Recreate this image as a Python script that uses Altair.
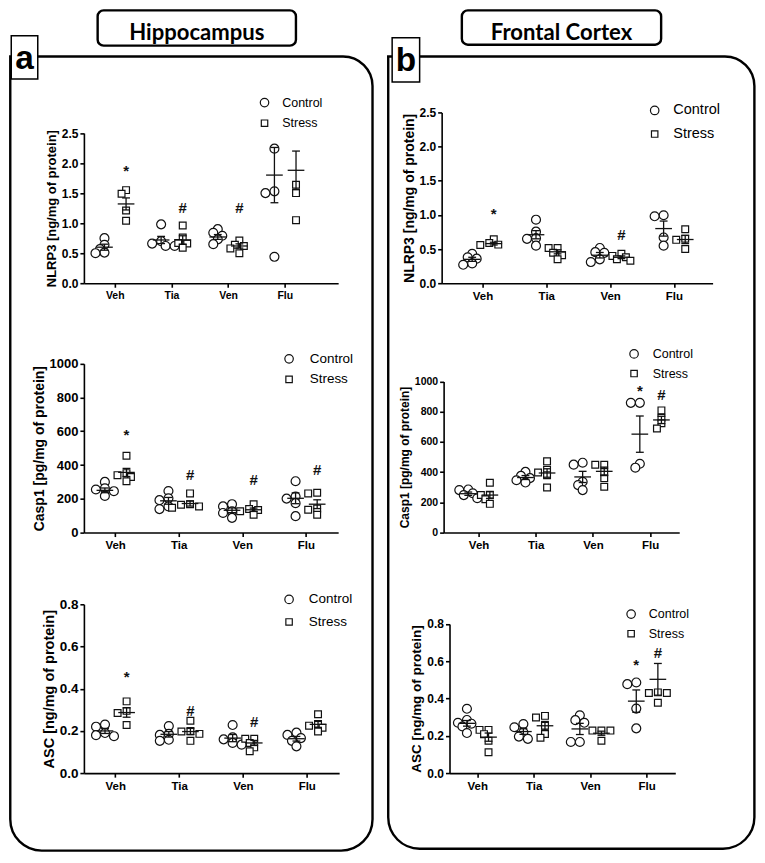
import altair as alt
import pandas as pd

categories = ["Veh", "Tia", "Ven", "Flu"]
groups = ["Control", "Stress"]

# ---------------- (a) Hippocampus ----------------
# NLRP3 [ng/mg of protein]
hip_nlrp3_control = [[0.75, 0.64, 0.57, 0.51, 0.50], [0.98, 0.70, 0.66, 0.62, 0.62],
                     [0.90, 0.84, 0.79, 0.73, 0.65], [2.24, 1.53, 1.50, 0.44]]
hip_nlrp3_stress = [[1.55, 1.49, 1.21, 1.04], [0.96, 0.76, 0.67, 0.66, 0.59],
                    [0.71, 0.64, 0.62, 0.58, 0.50], [1.64, 1.50, 1.05]]
hip_nlrp3_mean_control = [0.60, 0.72, 0.77, 1.80]
hip_nlrp3_sem_control = [0.05, 0.06, 0.04, 0.46]
hip_nlrp3_mean_stress = [1.32, 0.72, 0.62, 1.88]
hip_nlrp3_sem_stress = [0.10, 0.07, 0.035, 0.32]
hip_nlrp3_marks = [("Veh", "Stress", "*", 1.87), ("Tia", "Stress", "#", 1.25), ("Ven", "Stress", "#", 1.25)]

# Casp1 [pg/mg of protein]
hip_casp1_control = [[300, 262, 255, 245, 217], [246, 203, 192, 155, 139],
                     [168, 155, 126, 116, 87], [304, 213, 201, 174, 97]]
hip_casp1_stress = [[455, 352, 340, 329, 304], [232, 168, 165, 155, 147],
                    [168, 140, 134, 126, 106], [236, 232, 143, 135, 106]]
hip_casp1_mean_control = [250, 188, 132, 203]
hip_casp1_sem_control = [14, 20, 14, 32]
hip_casp1_mean_stress = [356, 172, 135, 168]
hip_casp1_sem_stress = [24, 15, 10, 26]
hip_casp1_marks = [("Veh", "Stress", "*", 575), ("Tia", "Stress", "#", 343),
                   ("Ven", "Stress", "#", 313), ("Flu", "Stress", "#", 372)]

# ASC [ng/mg of protein]
hip_asc_control = [[0.23, 0.22, 0.19, 0.18, 0.175], [0.223, 0.186, 0.181, 0.158, 0.153],
                   [0.228, 0.17, 0.16, 0.143, 0.135], [0.192, 0.181, 0.166, 0.153, 0.127]]
hip_asc_stress = [[0.34, 0.295, 0.285, 0.228], [0.248, 0.20, 0.197, 0.186, 0.153],
                  [0.163, 0.163, 0.143, 0.122, 0.104], [0.279, 0.233, 0.225, 0.215, 0.197]]
hip_asc_mean_control = [0.20, 0.184, 0.166, 0.163]
hip_asc_sem_control = [0.012, 0.013, 0.017, 0.011]
hip_asc_mean_stress = [0.287, 0.197, 0.143, 0.231]
hip_asc_sem_stress = [0.022, 0.015, 0.012, 0.014]
hip_asc_marks = [("Veh", "Stress", "*", 0.456), ("Tia", "Stress", "#", 0.293), ("Ven", "Stress", "#", 0.243)]

# ---------------- (b) Frontal Cortex ----------------
fc_nlrp3_control = [[0.43, 0.38, 0.36, 0.29, 0.27], [0.93, 0.755, 0.66, 0.65, 0.55],
                    [0.516, 0.455, 0.445, 0.35, 0.31], [0.995, 0.98, 0.67, 0.55]]
fc_nlrp3_stress = [[0.645, 0.59, 0.565, 0.56], [0.516, 0.516, 0.445, 0.41, 0.35],
                   [0.43, 0.40, 0.38, 0.35, 0.33], [0.79, 0.65, 0.635, 0.50]]
fc_nlrp3_mean_control = [0.35, 0.71, 0.41, 0.80]
fc_nlrp3_sem_control = [0.03, 0.06, 0.04, 0.11]
fc_nlrp3_mean_stress = [0.58, 0.46, 0.38, 0.64]
fc_nlrp3_sem_stress = [0.02, 0.03, 0.02, 0.06]
fc_nlrp3_marks = [("Veh", "Stress", "*", 1.01), ("Ven", "Stress", "#", 0.71)]

fc_casp1_control = [[285, 281, 260, 248, 227], [401, 375, 360, 346, 331],
                    [462, 449, 336, 314, 281], [858, 858, 455, 429]]
fc_casp1_stress = [[329, 250, 248, 220, 190], [471, 416, 397, 379, 298],
                   [449, 449, 400, 360, 303], [808, 760, 723, 688]]
fc_casp1_mean_control = [257, 364, 368, 651]
fc_casp1_sem_control = [11, 13, 37, 120]
fc_casp1_mean_stress = [248, 394, 405, 745]
fc_casp1_sem_stress = [22, 28, 28, 24]
fc_casp1_marks = [("Flu", "Control", "*", 935), ("Flu", "Stress", "#", 908)]

fc_asc_control = [[0.345, 0.285, 0.27, 0.265, 0.25, 0.215], [0.263, 0.246, 0.219, 0.196, 0.184],
                  [0.31, 0.284, 0.27, 0.167, 0.167], [0.486, 0.477, 0.346, 0.24]]
fc_asc_stress = [[0.232, 0.232, 0.209, 0.174, 0.112], [0.307, 0.298, 0.254, 0.21, 0.19],
                 [0.228, 0.228, 0.228, 0.174], [0.433, 0.43, 0.43, 0.377]]
fc_asc_mean_control = [0.267, 0.223, 0.237, 0.386]
fc_asc_sem_control = [0.015, 0.015, 0.03, 0.06]
fc_asc_mean_stress = [0.193, 0.254, 0.214, 0.503]
fc_asc_sem_stress = [0.022, 0.023, 0.011, 0.085]
fc_asc_marks = [("Flu", "Control", "*", 0.582), ("Flu", "Stress", "#", 0.644)]

# ---------------- layout / style ----------------
S = 0.983
COL_X = {"A": 78, "B": 442}
COL_W = {"A": 260, "B": 276}
ROW_Y = {1: 107, 2: 354, 3: 607}
ROW_H = {1: 174, 2: 180, 3: 172}
ROW_GAP = 73
COL_GAP = 104
INK = "#111111"
FONT = "Liberation Sans"
GROUP_SHIFT = 11 * S
SIZES = {"Control": 80, "Stress": 46}
SHAPES = {"Control": "circle", "Stress": "square"}

panels = [
    dict(col="A", row=1, x0=78, x1=337, ytop=128, po=0.244, al=0.11, ymax=2.5,
         ticks=[0, 0.5, 1.0, 1.5, 2.0, 2.5], fmt=".1f", title="NLRP3 [ng/mg of protein]",
         data=(hip_nlrp3_control, hip_nlrp3_stress, hip_nlrp3_mean_control, hip_nlrp3_sem_control,
               hip_nlrp3_mean_stress, hip_nlrp3_sem_stress, hip_nlrp3_marks),
         leg=(262, 97, 21, 12.5, 18), fs=(12, 10.5, 13)),
    dict(col="B", row=1, x0=442, x1=718, ytop=107, po=0.123, al=0.6, ymax=2.5,
         ticks=[0, 0.5, 1.0, 1.5, 2.0, 2.5], fmt=".1f", title="NLRP3 [ng/mg of protein]",
         data=(fc_nlrp3_control, fc_nlrp3_stress, fc_nlrp3_mean_control, fc_nlrp3_sem_control,
               fc_nlrp3_mean_stress, fc_nlrp3_sem_stress, fc_nlrp3_marks),
         leg=(659, 105, 24, 14.5, 19), fs=(12, 11.5, 14)),
    dict(col="A", row=2, x0=78, x1=337, ytop=362, po=0.0, al=0.5, ymax=1000,
         ticks=[0, 200, 400, 600, 800, 1000], fmt="d", title="Casp1 [pg/mg of protein]",
         data=(hip_casp1_control, hip_casp1_stress, hip_casp1_mean_control, hip_casp1_sem_control,
               hip_casp1_mean_stress, hip_casp1_sem_stress, hip_casp1_marks),
         leg=(287, 357, 21, 13.5, 21), fs=(13, 11.5, 14)),
    dict(col="B", row=2, x0=444, x1=684, ytop=380, po=0.06, al=1.0, ymax=1000,
         ticks=[0, 200, 400, 600, 800, 1000], fmt="d", title="Casp1 [pg/mg of protein]",
         data=(fc_casp1_control, fc_casp1_stress, fc_casp1_mean_control, fc_casp1_sem_control,
               fc_casp1_mean_stress, fc_casp1_sem_stress, fc_casp1_marks),
         leg=(638, 352, 20, 12.5, 19), fs=(10.5, 11.5, 12)),
    dict(col="A", row=3, x0=78, x1=338, ytop=607, po=0.0, al=0.5, ymax=0.8,
         ticks=[0, 0.2, 0.4, 0.6, 0.8], fmt=".1f", title="ASC [ng/mg of protein]",
         data=(hip_asc_control, hip_asc_stress, hip_asc_mean_control, hip_asc_sem_control,
               hip_asc_mean_stress, hip_asc_sem_stress, hip_asc_marks),
         leg=(287, 602, 23, 13.5, 20), fs=(13.5, 11.5, 14.5)),
    dict(col="B", row=3, x0=450, x1=680, ytop=627, po=0.0, al=0.5, ymax=0.8,
         ticks=[0, 0.2, 0.4, 0.6, 0.8], fmt=".1f", title="ASC [ng/mg of protein]",
         data=(fc_asc_control, fc_asc_stress, fc_asc_mean_control, fc_asc_sem_control,
               fc_asc_mean_stress, fc_asc_sem_stress, fc_asc_marks),
         leg=(635, 617, 20, 12.5, 18), fs=(12, 11.5, 13.5)),
]


def beeswarm(vals, ppu, d):
    """Simple dot-plot spreading so overlapping points sit side by side."""
    order = sorted(range(len(vals)), key=lambda i: -vals[i])
    placed, res = [], [0.0] * len(vals)
    cands = [0, -0.5, 0.5, -1.0, 1.0, -1.5, 1.5, -2.0, 2.0]
    for i in order:
        yp = vals[i] * ppu
        xo = 0.0
        for c in cands:
            xo = c * d
            if all((xo - px) ** 2 + (yp - py) ** 2 >= (0.62 * d) ** 2 for px, py in placed):
                break
        placed.append((xo, yp))
        res[i] = xo
    return res


one = pd.DataFrame({"k": [0]})


def build_panel(p, extra_layers=()):
    col, row = p["col"], p["row"]
    cx0, ry0 = COL_X[col], ROW_Y[row]
    W, H = COL_W[col] * S, ROW_H[row] * S
    ra, rb = (p["x0"] - cx0) * S, (p["x1"] - cx0) * S
    top = (p["ytop"] - ry0) * S
    po, al, ymax = p["po"], p["al"], p["ymax"]
    step = (rb - ra) / (4 + 2 * po)
    ppu = (H - top) / ymax
    ctrl, strs, mc, sc, ms, ss, marks = p["data"]
    ylab, xlab, tsize = p["fs"]

    base = {"Control": -GROUP_SHIFT, "Stress": GROUP_SHIFT}
    pts, summ, caps = [], [], []
    for g, arr, means, sems in (("Control", ctrl, mc, sc), ("Stress", strs, ms, ss)):
        for ci, cat in enumerate(categories):
            offs = beeswarm(arr[ci], ppu, 9.0)
            for v, o in zip(arr[ci], offs):
                pts.append(dict(cat=cat, group=g, value=v, off=base[g] + o))
            m, e = means[ci], sems[ci]
            summ.append(dict(cat=cat, group=g, mean=m, lo=m - e, hi=m + e, off=base[g]))
            caps.append(dict(cat=cat, group=g, yv=m - e, off=base[g]))
            caps.append(dict(cat=cat, group=g, yv=m + e, off=base[g]))
    sig = [dict(cat=c, group=g, sym=s, yv=y, off=base[g]) for c, g, s, y in marks]

    pts, summ, caps, sig = map(pd.DataFrame, (pts, summ, caps, sig))

    xaxis = alt.Axis(title=None, labelAngle=0, labelFont=FONT, labelFontSize=xlab, labelFontWeight="bold",
                     labelColor="black", labelPadding=3, domainColor="black", domainWidth=1.6,
                     tickColor="black", tickWidth=1.6, tickSize=4, grid=False)
    yaxis = alt.Axis(values=p["ticks"], format=p["fmt"], title=p["title"], titleFont=FONT,
                     titleFontSize=tsize, titleFontWeight="bold", titleColor="black", titlePadding=3,
                     labelFont=FONT, labelFontSize=ylab, labelFontWeight="bold", labelColor="black",
                     labelPadding=2, domainColor="black", domainWidth=1.6, tickColor="black",
                     tickWidth=1.6, tickSize=4, grid=False, offset=-ra)

    def X():
        return alt.X("cat:N", scale=alt.Scale(type="band", domain=categories, range=[ra, rb],
                                              paddingInner=0, paddingOuter=po, align=al), axis=xaxis)

    def XO():
        return alt.XOffset("off:Q", scale=alt.Scale(domain=[-step / 2, step / 2], nice=False, zero=False))

    def Y(field):
        return alt.Y(f"{field}:Q", scale=alt.Scale(domain=[0, ymax], range=[H, top], nice=False, zero=False),
                     axis=yaxis)

    point_layers = [
        alt.Chart(pts).transform_filter(alt.datum.group == g).mark_point(
            shape=SHAPES[g], filled=True, fill="white", stroke=INK, strokeWidth=1.2, size=SIZES[g], opacity=1
        ).encode(x=X(), xOffset=XO(), y=Y("value"))
        for g in groups
    ]
    err = alt.Chart(summ).mark_rule(color=INK, strokeWidth=1.3).encode(
        x=X(), xOffset=XO(), y=Y("lo"), y2="hi:Q")
    cap = alt.Chart(caps).mark_tick(orient="horizontal", color=INK, size=8 * S, thickness=1.3, opacity=1).encode(
        x=X(), xOffset=XO(), y=Y("yv"))
    mean = alt.Chart(summ).mark_tick(orient="horizontal", color=INK, size=17 * S, thickness=1.3, opacity=1).encode(
        x=X(), xOffset=XO(), y=Y("mean"))
    star = alt.Chart(sig).mark_text(font=FONT, fontSize=15, fontWeight="bold", color=INK,
                                    baseline="middle", align="center").encode(
        x=X(), xOffset=XO(), y=Y("yv"), text="sym:N")

    # key (Control / Stress) in the upper right of the panel
    lcx, lcy, lgap, lfs, ltx = p["leg"]
    key = []
    for i, g in enumerate(groups):
        sy = (lcy + i * lgap - ry0) * S
        key.append(alt.Chart(one).mark_point(shape=SHAPES[g], filled=True, fill="white", stroke=INK,
                                             strokeWidth=1.2, size=SIZES[g] * 0.9, opacity=1).encode(
            x=alt.value((lcx - cx0) * S), y=alt.value(sy)))
        key.append(alt.Chart(one).mark_text(text=g, font=FONT, fontSize=lfs, color="black",
                                            align="left", baseline="middle").encode(
            x=alt.value((lcx + ltx - cx0) * S), y=alt.value(sy)))

    return alt.layer(*extra_layers, *point_layers, err, cap, mean, star, *key).properties(width=W, height=H)


# ---------------- decorations (frames, headers, panel letters) ----------------
def lx(x):
    return (x - COL_X["A"]) * S


def ly(y):
    return (y - ROW_Y[1]) * S


def frame(x1, y1, x2, y2, sw, fill, fop, tl=0, tr=0, br=0, bl=0):
    return alt.Chart(one).mark_rect(fill=fill, fillOpacity=fop, stroke="black", strokeWidth=sw,
                                    cornerRadiusTopLeft=tl, cornerRadiusTopRight=tr,
                                    cornerRadiusBottomRight=br, cornerRadiusBottomLeft=bl).encode(
        x=alt.value(lx(x1)), x2=alt.value(lx(x2)), y=alt.value(ly(y1)), y2=alt.value(ly(y2)))


def label(txt, x, y, font, size):
    return alt.Chart(one).mark_text(text=txt, font=font, fontSize=size, fontWeight="bold", color="black",
                                    align="center", baseline="alphabetic").encode(
        x=alt.value(lx(x)), y=alt.value(ly(y)))


deco = [
    frame(3, 50, 372, 859, 2.4, "white", 0, tr=30 * S, br=32 * S, bl=32 * S),
    frame(388, 50, 761, 857, 2.4, "white", 0, tr=30 * S, br=32 * S, bl=32 * S),
    frame(92, 3, 294, 39, 2.4, "white", 1, 6, 6, 6, 6),
    frame(463, 3, 666, 38, 2.4, "white", 1, 6, 6, 6, 6),
    frame(4, 29, 31, 73, 1.5, "white", 1),
    frame(392, 31, 420, 76, 1.5, "white", 1),
    label("Hippocampus", 193, 33, "Lato", 22.5 * S),
    label("Frontal Cortex", 564.5, 33, "Lato", 22.5 * S),
    label("a", 17.5, 63, FONT, 34 * S),
    label("b", 406, 65, FONT, 34 * S),
]

charts = [build_panel(p, deco if i == 0 else ()) for i, p in enumerate(panels)]

chart = alt.concat(
    *charts, columns=2, spacing={"row": ROW_GAP * S, "column": COL_GAP * S},
    align="each", bounds="flush",
).resolve_scale(
    x="independent", y="independent", xOffset="independent"
).properties(padding=0, background="white").configure_view(stroke="transparent")

chart.save("out.html", embed_options={"renderer": "svg", "actions": False})
